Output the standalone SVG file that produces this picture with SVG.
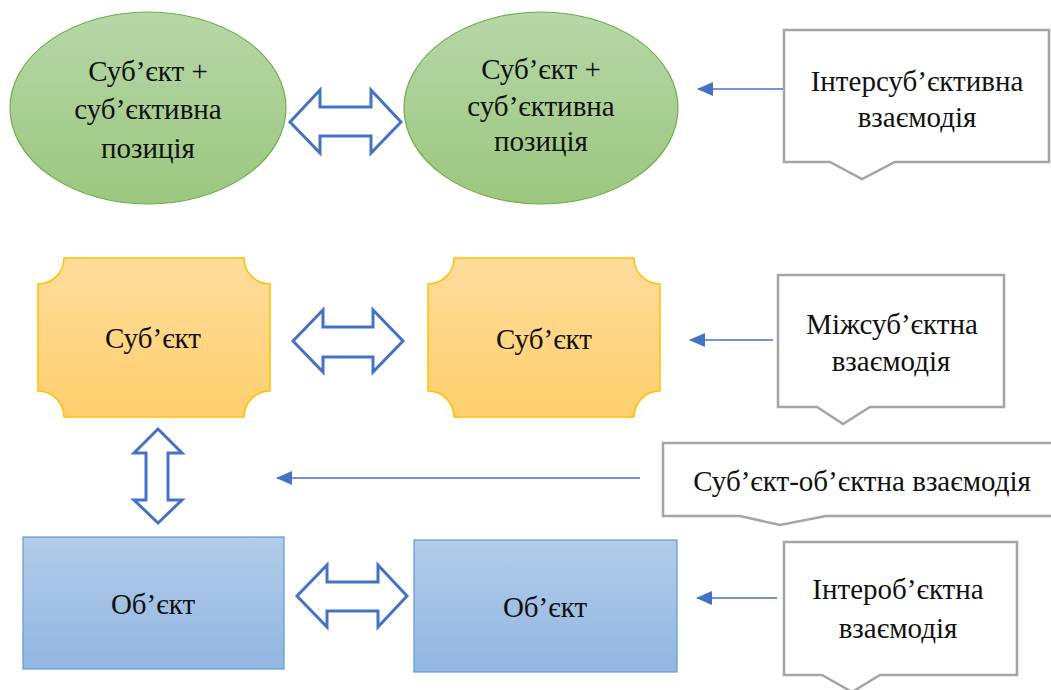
<svg xmlns="http://www.w3.org/2000/svg" width="1051" height="690" viewBox="0 0 1051 690">
  <defs>
    <linearGradient id="gGreen" x1="0" y1="0" x2="0" y2="1">
      <stop offset="0" stop-color="#b7d7a8"/>
      <stop offset="1" stop-color="#9bc77f"/>
    </linearGradient>
    <linearGradient id="gGold" x1="0" y1="0" x2="0" y2="1">
      <stop offset="0" stop-color="#fedc9c"/>
      <stop offset="1" stop-color="#fecf6c"/>
    </linearGradient>
    <linearGradient id="gBlue" x1="0" y1="0" x2="0" y2="1">
      <stop offset="0" stop-color="#b2cce9"/>
      <stop offset="1" stop-color="#92b6e1"/>
    </linearGradient>
    <marker id="head" viewBox="0 0 16 14" refX="15" refY="7" markerWidth="16" markerHeight="14" markerUnits="userSpaceOnUse" orient="auto">
      <path d="M0,0 L16,7 L0,14 Z" fill="#4472c4"/>
    </marker>
  </defs>
  <style>
    .lbl { font-family: 'Liberation Serif', 'Times New Roman', serif; font-size: 29px; fill: #111; text-anchor: middle; }
    .ell { fill: url(#gGreen); stroke: #70ad47; stroke-width: 1.2; }
    .plq { fill: url(#gGold); stroke: #ffc000; stroke-width: 1.5; }
    .box { fill: url(#gBlue); stroke: #5b9bd5; stroke-width: 1.2; }
    .dbl { fill: #fff; stroke: #4472c4; stroke-width: 3; stroke-linejoin: miter; }
    .call { fill: #fff; stroke: #a5a5a5; stroke-width: 2.5; }
    .ptr { fill: none; stroke: #4472c4; stroke-width: 1.4; marker-end: url(#head); }
  </style>

  <g font-family="Liberation Serif, serif">
  <!-- Subjects with their subjective positions -->
  <g id="subjpos1">
    <ellipse class="ell" cx="148" cy="108" rx="138" ry="96"/>
    <text class="lbl" x="148" y="81">Суб’єкт +</text>
    <text class="lbl" x="148" y="119">суб’єктивна</text>
    <text class="lbl" x="148" y="158">позиція</text>
  </g>
  <g id="subjpos2">
    <ellipse class="ell" cx="541" cy="108" rx="137" ry="96"/>
    <text class="lbl" x="541" y="79">Суб’єкт +</text>
    <text class="lbl" x="541" y="116">суб’єктивна</text>
    <text class="lbl" x="541" y="151">позиція</text>
  </g>

  <!-- Subjects -->
  <g id="subject1">
    <path class="plq" d="M64,258 H244 A26,26 0 0 0 270,284 V391 A26,26 0 0 0 244,417 H64 A26,26 0 0 0 38,391 V284 A26,26 0 0 0 64,258 Z"/>
    <text class="lbl" x="153" y="348">Суб’єкт</text>
  </g>
  <g id="subject2">
    <path class="plq" d="M454,258 H634 A26,26 0 0 0 660,284 V391 A26,26 0 0 0 634,417 H454 A26,26 0 0 0 428,391 V284 A26,26 0 0 0 454,258 Z"/>
    <text class="lbl" x="544" y="349">Суб’єкт</text>
  </g>

  <!-- Objects -->
  <g id="object1">
    <rect class="box" x="23" y="537" width="261" height="132"/>
    <text class="lbl" x="153" y="614">Об’єкт</text>
  </g>
  <g id="object2">
    <rect class="box" x="414" y="540" width="263" height="132"/>
    <text class="lbl" x="545" y="617">Об’єкт</text>
  </g>

  <!-- Interaction callouts -->
  <g id="intersubjective">
    <path class="call" d="M784,30 H1049 V162 H895 L862,179 L830,162 H784 Z"/>
    <text class="lbl" x="917" y="91">Інтерсуб’єктивна</text>
    <text class="lbl" x="917" y="127">взаємодія</text>
  </g>
  <g id="betweensubject">
    <path class="call" d="M778,275 H1004 V407 H870 L843,424 L817,407 H778 Z"/>
    <text class="lbl" x="892" y="334">Міжсуб’єктна</text>
    <text class="lbl" x="891" y="371">взаємодія</text>
  </g>
  <g id="subjectobject">
    <path class="call" d="M663,443 H1053 V516 H826 L780,525 L740,516 H663 Z"/>
    <text class="lbl" x="862" y="491">Суб’єкт-об’єктна взаємодія</text>
  </g>
  <g id="interobject">
    <path class="call" d="M784,542 H1017 V675 H880 L852,692 L822,675 H784 Z"/>
    <text class="lbl" x="898" y="599">Інтероб’єктна</text>
    <text class="lbl" x="898" y="638">взаємодія</text>
  </g>
  </g>

  <!-- Connectors -->
  <g id="connectors">
    <path class="dbl" d="M290,122 L320,90 V107 H371 V90 L401,122 L371,153 V136 H320 V153 Z"/>
    <path class="dbl" d="M293,341 L323,310 V327 H373 V310 L403,341 L373,372 V357 H323 V372 Z"/>
    <path class="dbl" d="M297,596 L327,565 V582 H378 V565 L407,596 L378,627 V611 H327 V627 Z"/>
    <path class="dbl" d="M158,429 L182,453 H168 V500 H182 L158,523 L134,500 H146 V453 H134 Z"/>
    <line class="ptr" x1="783" y1="89" x2="698" y2="89"/>
    <line class="ptr" x1="773" y1="340" x2="690" y2="340"/>
    <line class="ptr" x1="640" y1="478" x2="277" y2="478"/>
    <line class="ptr" x1="777" y1="598" x2="697" y2="598"/>
  </g>
</svg>
